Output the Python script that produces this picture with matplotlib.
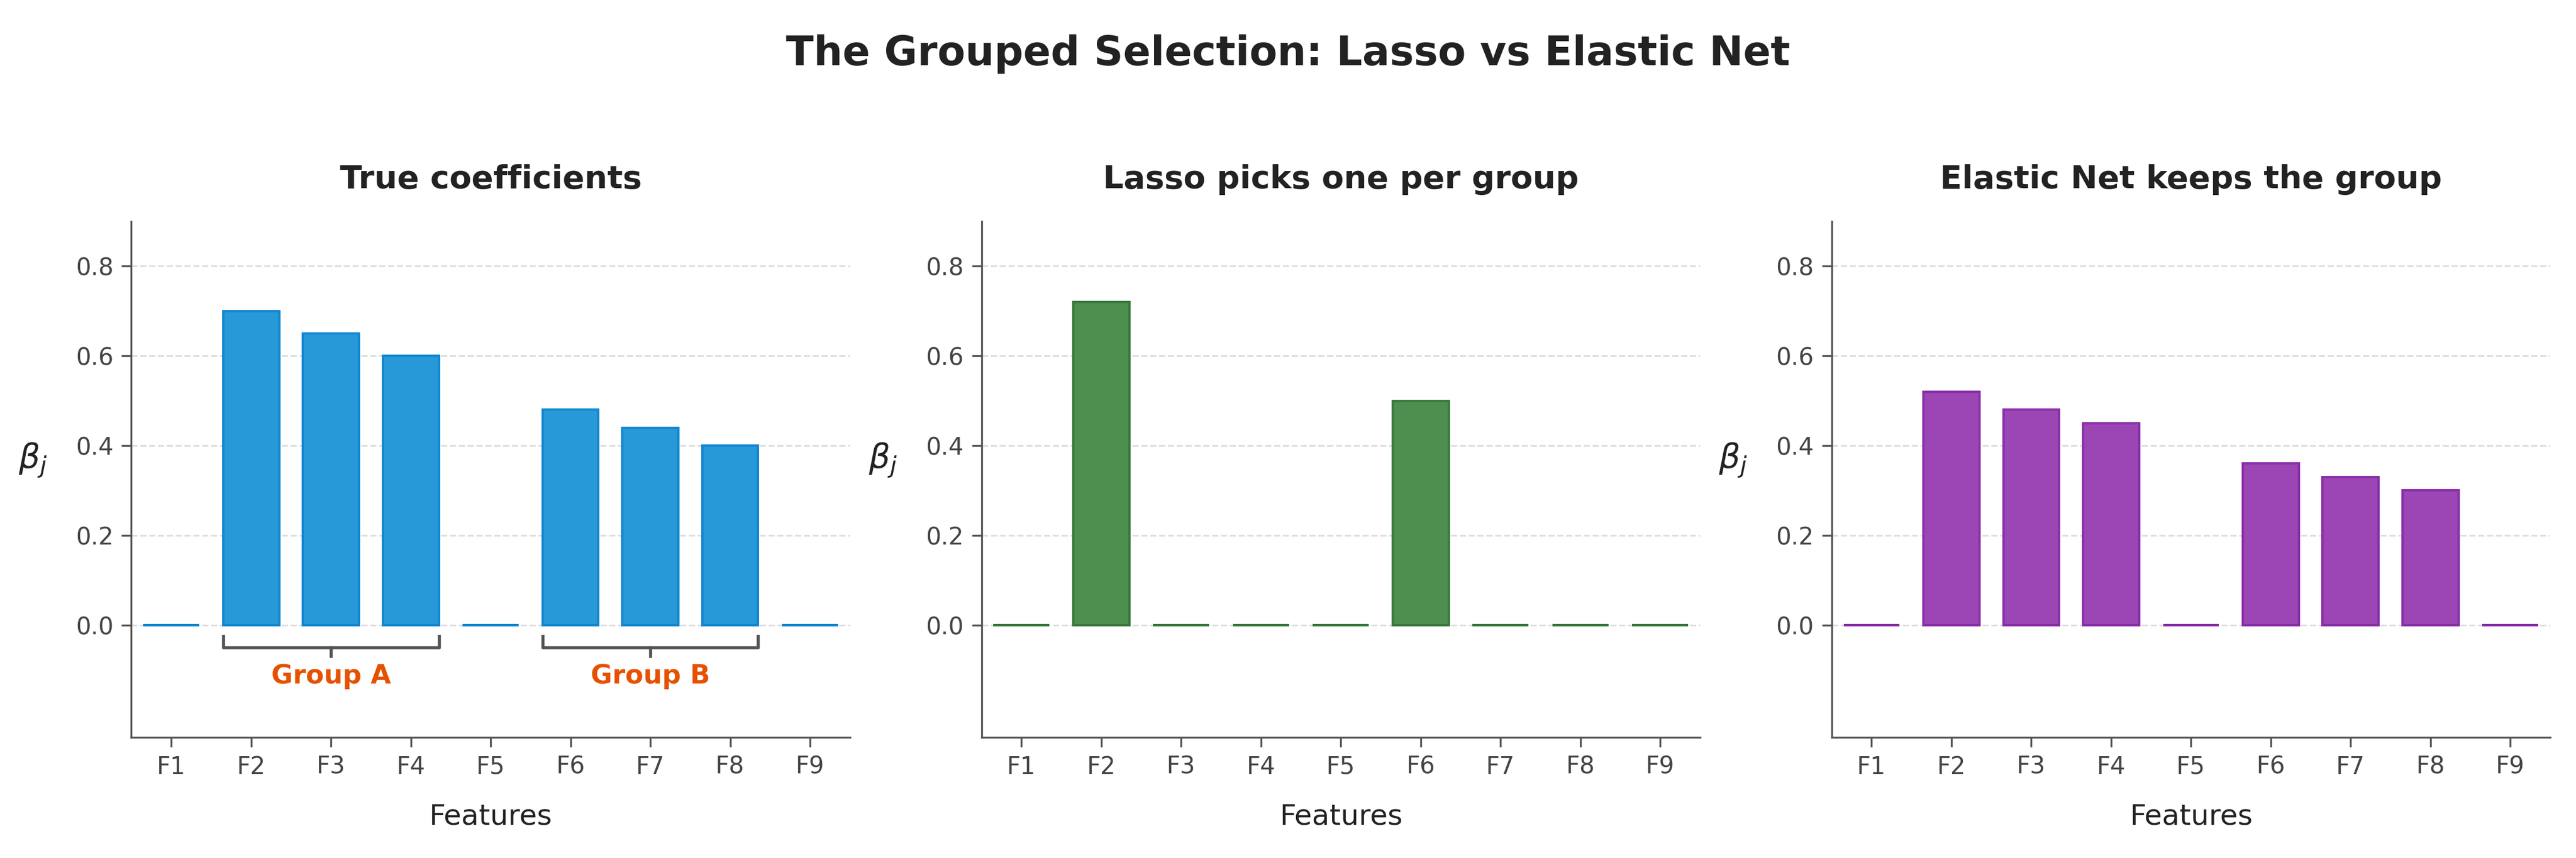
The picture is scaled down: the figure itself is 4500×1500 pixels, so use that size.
import matplotlib
matplotlib.use("Agg")
import matplotlib.pyplot as plt

features = ["F1", "F2", "F3", "F4", "F5", "F6", "F7", "F8", "F9"]
true_coef = [0, 0.70, 0.65, 0.60, 0, 0.48, 0.44, 0.40, 0]
lasso_coef = [0, 0.72, 0, 0, 0, 0.50, 0, 0, 0]
enet_coef = [0, 0.52, 0.48, 0.45, 0, 0.36, 0.33, 0.30, 0]
titles = ["True coefficients", "Lasso picks one per group", "Elastic Net keeps the group"]
faces = ["#2899D8", "#4C8F4F", "#9C45B5"]
edges = ["#1287D0", "#3A7A3D", "#8A2FA8"]
groups = [("Group A", 1, 3), ("Group B", 5, 7)]

plt.rcParams['font.family'] = ['DejaVu Sans']
fig, axes = plt.subplots(1, 3, figsize=(15, 5), dpi=300)
fig.subplots_adjust(left=0.051, right=0.99, top=0.742, bottom=0.141, wspace=0.183)
fig.suptitle("The Grouped Selection: Lasso vs Elastic Net", fontsize=17, fontweight="bold",
             color="#222222", y=0.96)

x = list(range(len(features)))
for ax, vals, t, fc, ec in zip(axes, [true_coef, lasso_coef, enet_coef], titles, faces, edges):
    ax.bar(x, vals, width=0.7, color=fc, edgecolor=ec, linewidth=1.0, zorder=3)
    ax.set_xlim(-0.5, 8.5)
    ax.set_ylim(-0.25, 0.9)
    ax.set_yticks([0, 0.2, 0.4, 0.6, 0.8])
    ax.set_xticks(x)
    ax.set_xticklabels(features)
    ax.set_title(t, fontsize=13.5, fontweight="bold", color="#222222", pad=14)
    ax.set_xlabel("Features", fontsize=12, color="#222222", labelpad=10)
    ax.set_ylabel(r"$\beta_j$", fontsize=14, rotation=0, color="#222222", labelpad=18)
    ax.yaxis.grid(True, linestyle="--", color="#dddddd", linewidth=0.7, zorder=0)
    ax.spines["top"].set_visible(False)
    ax.spines["right"].set_visible(False)
    for s in ["left", "bottom"]:
        ax.spines[s].set_color("#555555")
    ax.tick_params(colors="#555555", labelsize=10, length=4)
    for lab in ax.get_xticklabels() + ax.get_yticklabels():
        lab.set_color("#444444")

ax = axes[0]
for name, a, b in groups:
    x0, x1 = a - 0.35, b + 0.35
    y0, y1 = -0.025, -0.05
    ax.plot([x0, x0, x1, x1], [y0, y1, y1, y0], color="#555555", lw=1.3, zorder=4)
    mid = (a + b) / 2
    ax.plot([mid, mid], [y1, -0.07], color="#555555", lw=1.3, zorder=4)
    ax.text(mid, -0.115, name, ha="center", va="center", color="#E65100",
            fontsize=11, fontweight="bold")

fig.savefig("out.png", dpi=300, facecolor="white")
